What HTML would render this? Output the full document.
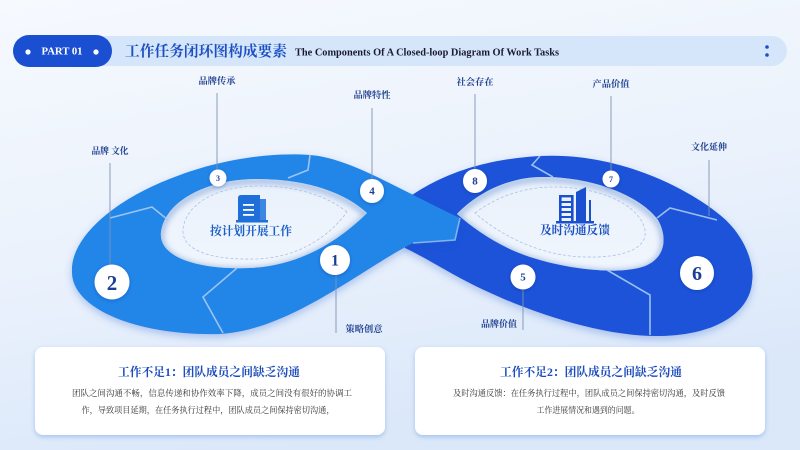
<!DOCTYPE html>
<html><head><meta charset="utf-8">
<style>
html,body{margin:0;padding:0;width:800px;height:450px;overflow:hidden;background:#eef4fc;}
svg{display:block;}
.cn{font-family:"Liberation Serif","Noto Serif CJK SC",serif;font-weight:700;}
.lbl{font-family:"Liberation Serif","Noto Serif CJK SC",serif;font-weight:700;font-size:9.3px;fill:#1e3f8e;}
.num{font-family:"Liberation Serif","Noto Serif CJK SC",serif;font-weight:700;fill:#1c3f95;}
.body{font-family:"Liberation Serif","Noto Serif CJK SC",serif;font-size:8.6px;fill:#333;}
</style></head>
<body>
<svg width="800" height="450" viewBox="0 0 800 450" xmlns="http://www.w3.org/2000/svg">
<defs>
  <linearGradient id="bg" x1="0" y1="0" x2="0.3" y2="1">
    <stop offset="0" stop-color="#f6f9fe"/>
    <stop offset="0.55" stop-color="#ebf2fc"/>
    <stop offset="1" stop-color="#dbe8fa"/>
  </linearGradient>
  <linearGradient id="hole" x1="0" y1="0" x2="0" y2="1">
    <stop offset="0" stop-color="#e9f1fc"/>
    <stop offset="1" stop-color="#f1f6fd"/>
  </linearGradient>
  <filter id="sh" x="-20%" y="-20%" width="140%" height="160%">
    <feDropShadow dx="0" dy="3" stdDeviation="4" flood-color="#1b4fc8" flood-opacity="0.3"/>
  </filter>
  <filter id="csh" x="-20%" y="-20%" width="140%" height="160%">
    <feDropShadow dx="0" dy="2" stdDeviation="2.5" flood-color="#3c78d8" flood-opacity="0.35"/>
  </filter>
  <filter id="dsh" x="-50%" y="-50%" width="200%" height="200%">
    <feDropShadow dx="0" dy="1" stdDeviation="1.5" flood-color="#0c2f80" flood-opacity="0.35"/>
  </filter>
  <filter id="blur" x="-20%" y="-20%" width="140%" height="140%"><feGaussianBlur stdDeviation="3"/></filter>
  <clipPath id="lh"><path d="M367,213 C345,193 310,180 260,179 C210,178 165,200 161,232 C158,258 200,270 250,268 C300,266 340,240 367,213 Z"/></clipPath>
  <clipPath id="rh"><path d="M457,214 C475,195 505,178 540,177 C590,176 640,195 658,220 C668,238 665,258 645,266 C620,275 570,270 530,257 C500,247 475,230 457,214 Z"/></clipPath>
</defs>

<rect x="0" y="0" width="800" height="450" fill="url(#bg)"/>

<!-- Header -->
<rect x="13" y="36" width="774" height="30" rx="15" fill="#d5e6fb"/>
<rect x="13" y="35" width="99" height="32" rx="16" fill="#1b4fd2"/>
<circle cx="28" cy="52" r="2.6" fill="#fff"/>
<circle cx="96" cy="52" r="2.6" fill="#fff"/>
<text x="62" y="52" text-anchor="middle" dominant-baseline="central" font-family="Liberation Serif, serif" font-weight="700" font-size="10.5" fill="#fff" textLength="41" lengthAdjust="spacingAndGlyphs">PART 01</text>
<text x="125" y="52" dominant-baseline="central" class="cn" font-size="15" fill="#1c4fc2" textLength="162" lengthAdjust="spacingAndGlyphs">工作任务闭环图构成要素</text>
<text x="295" y="53" dominant-baseline="central" font-family="Liberation Serif, serif" font-weight="700" font-size="10" fill="#1a1a2e" textLength="264" lengthAdjust="spacingAndGlyphs">The Components Of A Closed-loop Diagram Of Work Tasks</text>
<circle cx="767" cy="47" r="1.8" fill="#1c4fc2"/>
<circle cx="767" cy="55" r="1.8" fill="#1c4fc2"/>

<!-- Dark right loop -->
<path filter="url(#sh)" fill="#1a52d8" d="M405,200 C430,182 470,160 540,156 C620,152 690,190 720,215 C745,235 755,265 752,282 C750,310 720,335 660,336 C600,337 520,310 460,278 C440,267 420,255 405,248 Z"/>
<path fill="url(#hole)" d="M457,214 C475,195 505,178 540,177 C590,176 640,195 658,220 C668,238 665,258 645,266 C620,275 570,270 530,257 C500,247 475,230 457,214 Z"/>
<g clip-path="url(#rh)">
  <path filter="url(#blur)" fill="none" stroke="#a7bfe4" stroke-width="6" transform="translate(0,2)" d="M457,214 C475,195 505,178 540,177 C590,176 640,195 658,220 C668,238 665,258 645,266 C620,275 570,270 530,257 C500,247 475,230 457,214 Z"/>
</g>
<path fill="none" stroke="#a9c2e6" stroke-width="0.8" stroke-dasharray="3 2" d="M475,213 C495,198 520,188 550,187 C600,186 640,205 645,230 C648,250 620,258 585,257 C540,256 500,235 475,213 Z"/>

<!-- Light left loop -->
<path filter="url(#sh)" fill="#2285e8" d="M413,243 C360,270 290,330 220,334 C140,336 72,310 72,272 C70,240 110,200 180,175 C220,160 270,152 310,155 C350,158 400,190 460,218 L455,240 Z"/>
<path fill="url(#hole)" d="M367,213 C345,193 310,180 260,179 C210,178 165,200 161,232 C158,258 200,270 250,268 C300,266 340,240 367,213 Z"/>
<g clip-path="url(#lh)">
  <path filter="url(#blur)" fill="none" stroke="#a7bfe4" stroke-width="6" transform="translate(0,2)" d="M367,213 C345,193 310,180 260,179 C210,178 165,200 161,232 C158,258 200,270 250,268 C300,266 340,240 367,213 Z"/>
</g>
<path fill="none" stroke="#a9c2e6" stroke-width="0.8" stroke-dasharray="3 2" d="M347,212 C330,198 300,186 260,186 C215,186 185,205 183,230 C182,252 215,260 255,259 C300,258 330,235 347,212 Z"/>

<!-- Dividers -->
<g fill="none" stroke="#a9cbf3" stroke-width="1.6" stroke-linejoin="miter" opacity="0.9">
  <polyline points="310,155 308,170 288,178"/>
  <polyline points="110,218 152,207 168,220"/>
  <polyline points="237,268 203,297 223,333"/>
  <polyline points="460,218 455,240 413,243" stroke="#8fb9ef"/>
  <polyline points="540,156 532,165 553,177"/>
  <polyline points="657,218 670,208 717,220"/>
  <polyline points="607,270 650,295 650,335"/>
</g>

<!-- Leader lines -->
<g stroke="#7f93b3" stroke-width="0.9">
  <line x1="110" y1="163" x2="110" y2="265"/>
  <line x1="217" y1="93" x2="217" y2="170"/>
  <line x1="372" y1="108" x2="372" y2="179"/>
  <line x1="475" y1="94" x2="475" y2="169"/>
  <line x1="611" y1="96" x2="611" y2="170"/>
  <line x1="709" y1="160" x2="709" y2="216"/>
  <line x1="336" y1="275" x2="336" y2="333"/>
  <line x1="523" y1="290" x2="523" y2="330"/>
</g>

<!-- Labels -->
<g text-anchor="middle" dominant-baseline="central">
  <text class="lbl" x="110" y="152" textLength="37" lengthAdjust="spacingAndGlyphs">品牌 文化</text>
  <text class="lbl" x="217" y="82" textLength="37" lengthAdjust="spacingAndGlyphs">品牌传承</text>
  <text class="lbl" x="372" y="96" textLength="37" lengthAdjust="spacingAndGlyphs">品牌特性</text>
  <text class="lbl" x="475" y="83" textLength="37" lengthAdjust="spacingAndGlyphs">社会存在</text>
  <text class="lbl" x="611" y="85" textLength="37" lengthAdjust="spacingAndGlyphs">产品价值</text>
  <text class="lbl" x="709" y="148" textLength="36" lengthAdjust="spacingAndGlyphs">文化延伸</text>
  <text class="lbl" x="364" y="330" textLength="37" lengthAdjust="spacingAndGlyphs">策略创意</text>
  <text class="lbl" x="499" y="325" textLength="36" lengthAdjust="spacingAndGlyphs">品牌价值</text>
</g>

<!-- Number circles -->
<g fill="#fff" filter="url(#dsh)">
  <circle cx="112" cy="282" r="17.5"/>
  <circle cx="335" cy="260" r="15"/>
  <circle cx="218" cy="178" r="8.5"/>
  <circle cx="372" cy="191" r="12"/>
  <circle cx="475" cy="181" r="12"/>
  <circle cx="611" cy="179" r="8.5"/>
  <circle cx="523" cy="277" r="12.5"/>
  <circle cx="697" cy="273" r="17"/>
</g>
<g text-anchor="middle" dominant-baseline="central">
  <text class="num" x="112" y="283" font-size="21">2</text>
  <text class="num" x="335" y="261" font-size="16">1</text>
  <text class="num" x="218" y="178.5" font-size="8">3</text>
  <text class="num" x="372" y="191.5" font-size="11">4</text>
  <text class="num" x="475" y="181.5" font-size="11">8</text>
  <text class="num" x="611" y="179.5" font-size="8">7</text>
  <text class="num" x="523" y="277.5" font-size="11">5</text>
  <text class="num" x="697" y="274" font-size="20">6</text>
</g>

<!-- Left icon -->
<g fill="#1e6fd9">
  <path d="M238,220 L238,198 Q238,195 241,195 L260,195 L260,220 Z"/>
  <rect x="260" y="199" width="6" height="21" fill="#3d86e2"/>
  <rect x="236" y="220" width="32" height="2.5"/>
</g>
<g fill="#fff">
  <rect x="243" y="204" width="11" height="1.8"/>
  <rect x="243" y="209" width="11" height="1.8"/>
  <rect x="243" y="214" width="11" height="1.8"/>
</g>
<text x="251" y="231" text-anchor="middle" dominant-baseline="central" class="cn" font-size="12" fill="#1a5fc8" textLength="82" lengthAdjust="spacingAndGlyphs">按计划开展工作</text>

<!-- Right icon -->
<g fill="#1a4fd0">
  <rect x="559" y="195" width="2.6" height="27"/>
  <rect x="571" y="195" width="2.6" height="27"/>
  <rect x="559" y="195" width="14" height="2.4"/>
  <rect x="561" y="201" width="11" height="2"/>
  <rect x="561" y="206" width="11" height="2"/>
  <rect x="561" y="211" width="11" height="2"/>
  <rect x="561" y="216" width="11" height="2"/>
  <path d="M576,222 L576,192 L586,187 L586,222 Z"/>
  <rect x="589" y="200" width="2" height="22"/>
  <rect x="556" y="221" width="38" height="2.5"/>
</g>
<text x="575" y="230" text-anchor="middle" dominant-baseline="central" class="cn" font-size="12" fill="#1a4fc0" textLength="70" lengthAdjust="spacingAndGlyphs">及时沟通反馈</text>

<!-- Cards -->
<rect x="35" y="347" width="350" height="88" rx="8" fill="#fff" filter="url(#csh)"/>
<rect x="415" y="347" width="350" height="88" rx="8" fill="#fff" filter="url(#csh)"/>

<g text-anchor="middle" dominant-baseline="central">
  <text x="209" y="372" class="cn" font-size="12" fill="#1c4cbc" textLength="182" lengthAdjust="spacingAndGlyphs">工作不足1：团队成员之间缺乏沟通</text>
  <text x="212" y="393" class="body" textLength="280" lengthAdjust="spacingAndGlyphs">团队之间沟通不畅，信息传递和协作效率下降，成员之间没有很好的协调工</text>
  <text x="208" y="410" class="body" textLength="253" lengthAdjust="spacingAndGlyphs">作，导致项目延期，在任务执行过程中，团队成员之间保持密切沟通，</text>

  <text x="591" y="372" class="cn" font-size="12" fill="#1c4cbc" textLength="182" lengthAdjust="spacingAndGlyphs">工作不足2：团队成员之间缺乏沟通</text>
  <text x="589" y="393" class="body" textLength="272" lengthAdjust="spacingAndGlyphs">及时沟通反馈：在任务执行过程中，团队成员之间保持密切沟通，及时反馈</text>
  <text x="588" y="410" class="body" textLength="103" lengthAdjust="spacingAndGlyphs">工作进展情况和遇到的问题。</text>
</g>
</svg>
</body></html>
